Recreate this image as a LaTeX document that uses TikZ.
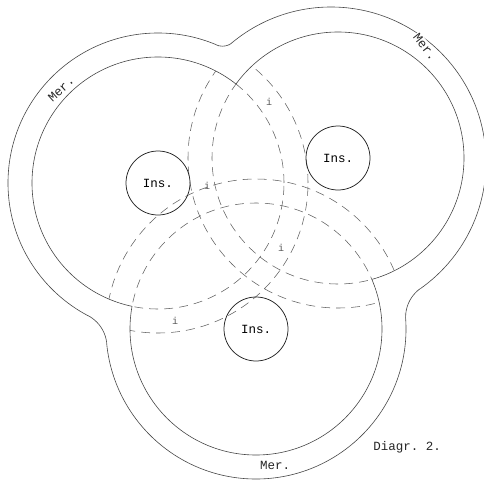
\documentclass[tikz,border=0pt]{standalone}
\usepackage{fontspec}
\setmonofont{Liberation Mono}
\begin{document}
\begin{tikzpicture}[x=1pt,y=-1pt,
  solidline/.style={draw=black!72, line width=0.6pt},
  dashline/.style={draw=black!62, line width=0.55pt, dash pattern=on 9pt off 6pt},
  label/.style={font=\ttfamily\fontsize{12.5}{14}\selectfont, text=black!85, inner sep=0pt},
  ilabel/.style={font=\ttfamily\fontsize{10}{12}\selectfont, text=black!65, inner sep=0pt},
  insbox/.style={circle, draw=black!85, line width=0.75pt, minimum size=64pt, inner sep=0pt, font=\ttfamily\fontsize{12.5}{14}\selectfont}]
\useasboundingbox (0,0) rectangle (484,479);
\def\RI{126pt}
\def\RO{150pt}
\def\ROtr{155pt}
\coordinate (tl) at (158,183);
\coordinate (tr) at (338,158);
\coordinate (trs) at (331,162);
\coordinate (bo) at (256,329);
% ---- outer solid boundary (union of outer circles)
\begin{scope}[even odd rule]
  \clip (-20,-20) rectangle (520,520) (trs) circle (\ROtr);
  \clip (-20,-20) rectangle (520,520) (bo) circle (\RO);
  \draw[solidline] (tl) circle (\RO);
\end{scope}
\begin{scope}[even odd rule]
  \clip (-20,-20) rectangle (520,520) (tl) circle (\RO);
  \clip (-20,-20) rectangle (520,520) (bo) circle (\RO);
  \draw[solidline] (trs) circle (\ROtr);
\end{scope}
\begin{scope}[even odd rule]
  \clip (-20,-20) rectangle (520,520) (tl) circle (\RO);
  \clip (-20,-20) rectangle (520,520) (trs) circle (\ROtr);
  \draw[solidline] (bo) circle (\RO);
\end{scope}
% ---- rounded necks of the outer boundary
\coordinate (fa) at (71.9,346.7);
\coordinate (fa1) at (88.2,315.7);
\coordinate (fax) at (107.8,322.6);
\coordinate (fa2) at (106.7,343.4);
\begin{scope}
  \fill[white] (fa) -- (fa1) -- (fax) -- (fa2) -- cycle;
  \clip (fa) -- (fa1) -- (fax) -- (fa2) -- cycle;
  \draw[solidline] (fa) circle (35pt);
\end{scope}
\coordinate (fb) at (440.6,317.1);
\coordinate (fb1) at (420.4,288.5);
\coordinate (fbx) at (401.2,298.4);
\coordinate (fb2) at (405.7,319.4);
\begin{scope}
  \fill[white] (fb) -- (fb1) -- (fbx) -- (fb2) -- cycle;
  \clip (fb) -- (fb1) -- (fbx) -- (fb2) -- cycle;
  \draw[solidline] (fb) circle (35pt);
\end{scope}
\coordinate (fc) at (222.5,31.2);
\coordinate (fc1) at (216.6,45.0);
\coordinate (fcx) at (225.2,50.8);
\coordinate (fc2) at (232.1,42.7);
\begin{scope}
  \fill[white] (fc) -- (fc1) -- (fcx) -- (fc2) -- cycle;
  \clip (fc) -- (fc1) -- (fcx) -- (fc2) -- cycle;
  \draw[solidline] (fc) circle (15pt);
\end{scope}
% ---- inner solid boundary (union of inner circles)
\begin{scope}[even odd rule]
  \clip (-20,-20) rectangle (520,520) (tr) circle (\RI);
  \clip (-20,-20) rectangle (520,520) (bo) circle (\RI);
  \draw[solidline] (tl) circle (\RI);
\end{scope}
\begin{scope}[even odd rule]
  \clip (-20,-20) rectangle (520,520) (tl) circle (\RI);
  \clip (-20,-20) rectangle (520,520) (bo) circle (\RI);
  \draw[solidline] (tr) circle (\RI);
\end{scope}
\begin{scope}[even odd rule]
  \clip (-20,-20) rectangle (520,520) (tl) circle (\RI);
  \clip (-20,-20) rectangle (520,520) (tr) circle (\RI);
  \draw[solidline] (bo) circle (\RI);
\end{scope}
% ---- dashed continuations inside the other inner discs
\begin{scope}
  \clip (tr) circle (\RI) (bo) circle (\RI);
  \draw[dashline] (tl) circle (\RI);
  \draw[dashline] (tl) circle (\RO);
\end{scope}
\begin{scope}
  \clip (tl) circle (\RI) (bo) circle (\RI);
  \draw[dashline] (tr) circle (\RI);
  \draw[dashline] (tr) circle (\RO);
\end{scope}
\begin{scope}
  \clip (tl) circle (\RI) (tr) circle (\RI);
  \draw[dashline] (bo) circle (\RI);
  \draw[dashline] (bo) circle (\RO);
\end{scope}
% ---- Ins. discs
\node[insbox] (ins1) at (tl) {Ins.};
\node[insbox] (ins2) at (tr) {Ins.};
\node[insbox] (ins3) at (bo) {Ins.};
% ---- labels
\node[label, rotate=42] (mer1) at (61,89) {Mer.};
\node[label, rotate=-52, fill=white, inner sep=1pt] (mer2) at (425,47) {Mer.};
\node[label] (mer3) at (275,465) {Mer.};
\node[label] (diagr) at (407,447) {Diagr. 2.};
\node[ilabel] (i1) at (207,186) {i};
\node[ilabel] (i2) at (269,102) {i};
\node[ilabel] (i3) at (175,321) {i};
\node[ilabel] (i4) at (281,248) {i};
\end{tikzpicture}
\end{document}
